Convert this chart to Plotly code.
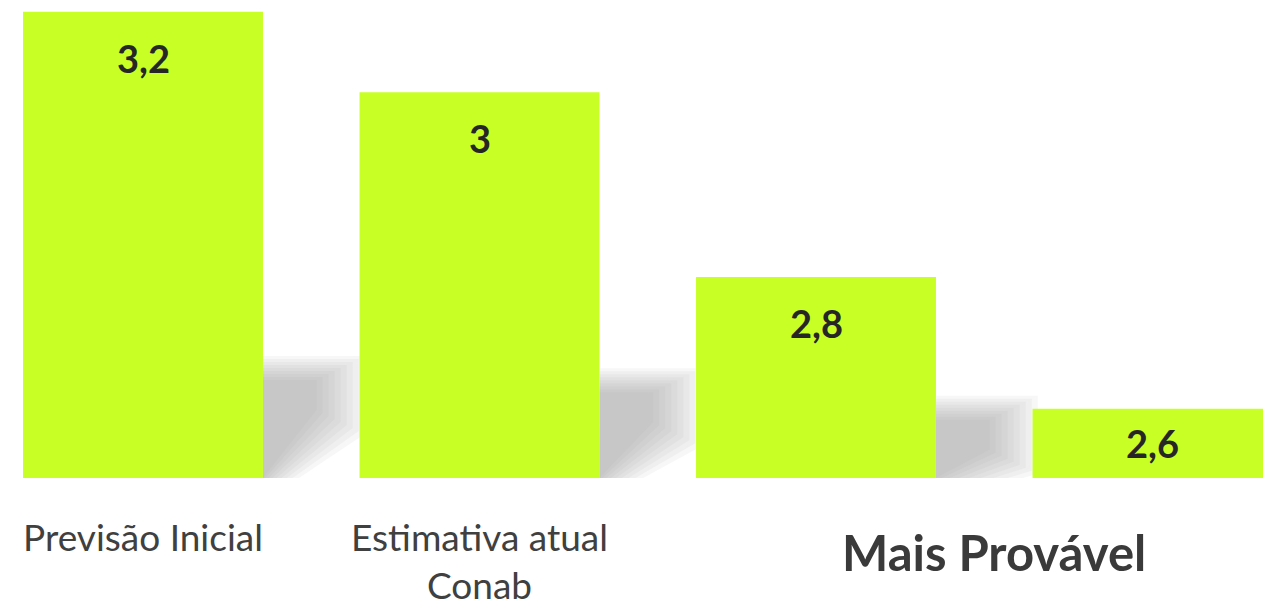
import plotly.graph_objects as go

# data
categories = ["Previsão Inicial", "Estimativa atual<br>Conab", "", ""]
values = [3.166, 3.051, 2.787, 2.599]          # bar heights (axis starts at 2.5)
labels = ["3,2", "3", "2,8", "2,6"]             # printed labels
group_label = "Mais Provável"

Y_MIN = 2.5
PX_PER_UNIT = 700
PX_PER_CAT = 336.5
PLOT_H = 478
BAR_W = 0.713
BAR_COLOR = "#c8ff24"

x_pos = list(range(len(categories)))

fig = go.Figure()
fig.add_trace(
    go.Bar(
        x=x_pos,
        y=values,
        width=BAR_W,
        marker=dict(color=BAR_COLOR, line=dict(width=0)),
        hoverinfo="skip",
    )
)

# soft grey "reflection" shadows to the right of the first three bars,
# faked with stacked translucent polygons
shapes = []
n_layers = 9
for i, v in enumerate(values[:3]):
    x0 = i + BAR_W / 2
    length = 0.16
    top = Y_MIN + 28 / PX_PER_UNIT + 0.15 * (v - Y_MIN)
    right_bottom = top - 30 / PX_PER_UNIT
    for k in range(n_layers):
        dx = k * 6 / PX_PER_CAT
        dy = k * 3 / PX_PER_UNIT
        path = (
            f"M {x0},{top + dy} L {x0 + length + dx},{top + dy} "
            f"L {x0 + length + dx},{right_bottom - dy} L {x0},{Y_MIN - dy} Z"
        )
        shapes.append(
            dict(
                type="path", path=path, xref="x", yref="y", layer="below",
                fillcolor="#999999", opacity=0.08, line=dict(width=0),
            )
        )

annotations = []
for i, (v, txt) in enumerate(zip(values, labels)):
    y_lab = max(v - 46 / PX_PER_UNIT, (v + Y_MIN) / 2)
    annotations.append(
        dict(
            x=i, y=y_lab, xref="x", yref="y", text=txt, showarrow=False,
            font=dict(family="Lato", size=38, color="#262626", weight="bold"),
            yanchor="middle",
        )
    )
annotations.append(
    dict(
        x=2.53, y=0, xref="x", yref="paper", text=f"<b>{group_label}</b>",
        showarrow=False, yanchor="middle", yshift=-74,
        font=dict(family="Lato", size=49, color="#3a3a3a"),
    )
)

fig.update_layout(
    width=1263,
    height=606,
    margin=dict(l=0, r=0, t=0, b=606 - PLOT_H),
    paper_bgcolor="white",
    plot_bgcolor="white",
    showlegend=False,
    shapes=shapes,
    annotations=annotations,
    xaxis=dict(
        range=[-143 / PX_PER_CAT, (1263 - 143) / PX_PER_CAT],
        tickvals=x_pos,
        ticktext=categories,
        ticks="",
        ticklabelstandoff=35,
        automargin=False,
        showgrid=False,
        zeroline=False,
        showline=False,
        tickfont=dict(family="Lato", size=37, color="#404040"),
        fixedrange=True,
    ),
    yaxis=dict(
        range=[Y_MIN, Y_MIN + PLOT_H / PX_PER_UNIT],
        visible=False,
        automargin=False,
        showgrid=False,
        fixedrange=True,
    ),
)

fig.write_html(
    "out.html",
    config={"displayModeBar": False},
    post_script="document.body.style.margin='0';document.body.style.overflow='hidden';",
)
